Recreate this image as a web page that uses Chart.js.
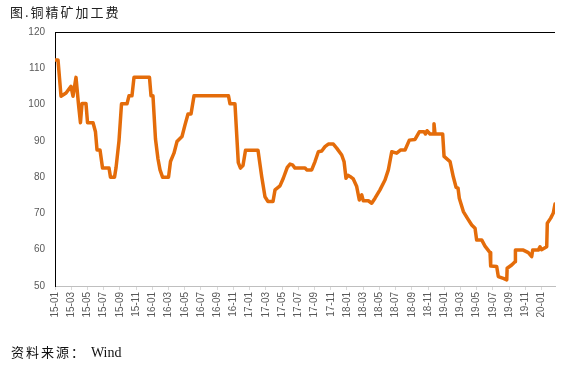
<!DOCTYPE html>
<html>
<head>
<meta charset="utf-8">
<script src="https://cdn.jsdelivr.net/npm/chart.js@4.4.0/dist/chart.umd.min.js"></script>
<style>
    html, body { margin: 0; padding: 0; background: #fff; }
    #wrap { position: relative; width: 578px; height: 365px; }
    #title {
        position: absolute; left: 10px; top: 2px;
        font-family: "Noto Sans CJK SC", sans-serif; font-size: 13px;
        letter-spacing: 2px; color: #222;
    }
    #source {
        position: absolute; left: 11px; top: 342px;
        font-family: "Noto Sans CJK SC", sans-serif; font-size: 13px;
        letter-spacing: 2px; color: #111;
    }
    #source span { font-family: "Liberation Serif", serif; letter-spacing: 0; font-size: 14px; }
</style>
</head>
<body>
<div id="wrap">
    <canvas id="myChart" width="578" height="365"></canvas>
    <div id="title">图.铜精矿加工费</div>
    <div id="source">资料来源： <span>Wind</span></div>
</div>
<script>
// x = months since 2015-01 ; y = 铜精矿加工费 (美元/吨)
const months = [
    0, 0.37, 0.74, 1.36, 1.97, 2.22, 2.59, 2.90, 3.14, 3.33, 3.82, 4.01, 4.69, 4.99, 5.18,
    5.55, 5.86, 6.66, 6.84, 7.34, 7.52, 7.89, 8.20, 8.88, 9.12, 9.49, 9.74, 11.65, 11.84,
    12.08, 12.39, 12.70, 12.95, 13.26, 14.00, 14.24, 14.67, 15.04, 15.66, 16.03, 16.40,
    16.77, 17.14, 21.39, 21.58, 22.19, 22.60, 22.87, 23.18, 23.49, 25.03, 25.49, 25.89,
    26.26, 26.88, 27.13, 27.74, 28.15, 28.64, 28.98, 29.28, 29.59, 30.83, 31.04, 31.65,
    32.06, 32.47, 32.89, 33.29, 33.70, 34.32, 34.73, 35.35, 35.64, 35.88, 36.13, 36.37,
    36.78, 37.20, 37.52, 37.82, 38.01, 38.63, 39.05, 39.46, 40.07, 40.69, 41.10, 41.52,
    42.13, 42.63, 43.16, 43.69, 44.39, 44.92, 45.50, 45.68, 45.87, 46.24, 46.61, 46.73,
    46.86, 47.80, 47.97, 48.71, 49.11, 49.45, 49.69, 49.85, 50.35, 50.84, 51.38, 51.79,
    51.99, 52.61, 53.02, 53.64, 53.72, 54.46, 54.66, 55.28, 55.70, 55.75, 56.31, 56.72,
    56.77, 57.74, 58.36, 58.78, 58.90, 59.59, 59.80, 59.99, 60.63, 60.70, 61.12, 61.44, 61.65
];
const tcFees = [
    112.3, 112.3, 102.3, 103.2, 105, 102.3, 107.5, 100, 95, 100.3, 100.3, 95, 95, 92.5, 87.5,
    87.5, 82.5, 82.5, 80, 80, 82.5, 90, 100.2, 100.2, 102.4, 102.4, 107.5, 107.5, 102.4,
    102.4, 90.5, 85, 82, 80, 80, 84.3, 86.6, 89.8, 91.2, 94.4, 97.4,
    97.4, 102.4, 102.4, 100.2, 100.2, 84, 82.5, 83.2, 87.4, 87.4, 80.1, 74.6,
    73.3, 73.3, 76.5, 77.6, 79.7, 82.7, 83.6, 83.4, 82.5, 82.5, 82.0, 82.0,
    84.3, 87.0, 87.2, 88.4, 89.1, 89.1, 88.0, 86.1, 84.3, 79.7, 80.5, 80.2,
    79.5, 77.4, 73.7, 75.1, 73.5, 73.5, 72.8, 74.2, 76.5, 79.2, 82.0, 87.0,
    86.6, 87.5, 87.5, 90.2, 90.4, 92.5, 92.5, 91.9, 92.8, 91.9, 91.9, 94.7,
    91.9, 91.9, 85.7, 84.3, 80.1, 77.2, 77.0, 74.2, 70.5, 68.7, 66.8, 65.9,
    62.7, 62.7, 61.0, 59.2, 55.5, 55.4, 52.6, 52.1, 51.7, 54.9, 55.8, 56.7,
    59.9, 59.9, 59.2, 58.1, 59.9, 59.9, 60.8, 60.0, 60.8, 67.3, 68.7, 70.1, 72.6
];

const tickMonths = [];
for (let i = 0; i <= 60; i += 2) tickMonths.push(i);
const tickLabels = [
    '15-01', '15-03', '15-05', '15-07', '15-09', '15-11',
    '16-01', '16-03', '16-05', '16-07', '16-09', '16-11',
    '17-01', '17-03', '17-05', '17-07', '17-09', '17-11',
    '18-01', '18-03', '18-05', '18-07', '18-09', '18-11',
    '19-01', '19-03', '19-05', '19-07', '19-09', '19-11',
    '20-01'
];
const yTicks = [50, 60, 70, 80, 90, 100, 110, 120];

const points = months.map((m, i) => ({ x: m, y: tcFees[i] }));

// ligne noire en haut de la zone du graphique
const topBorder = {
    id: 'topBorder',
    afterDraw(chart) {
        const a = chart.chartArea;
        const ctx = chart.ctx;
        ctx.save();
        ctx.strokeStyle = '#000';
        ctx.lineWidth = 1;
        ctx.beginPath();
        ctx.moveTo(a.left, a.top + 0.5);
        ctx.lineTo(a.right, a.top + 0.5);
        ctx.stroke();
        ctx.restore();
    }
};

const ctx = document.getElementById('myChart').getContext('2d');
const myChart = new Chart(ctx, {
    type: 'line',
    data: {
        datasets: [{
            label: '铜精矿加工费',
            data: points,
            borderColor: '#E46C0A',
            borderWidth: 3.5,
            borderJoinStyle: 'round',
            borderCapStyle: 'round',
            pointRadius: 0,
            tension: 0,
            fill: false
        }]
    },
    options: {
        responsive: false,
        animation: false,
        layout: { padding: { top: 32, right: 23, left: 0, bottom: 0 } },
        plugins: {
            legend: { display: false },
            tooltip: { enabled: false }
        },
        scales: {
            x: {
                type: 'linear',
                min: 0,
                max: 61.65,
                afterFit: s => { s.height = 79; },
                afterBuildTicks: s => { s.ticks = tickMonths.map(v => ({ value: v })); },
                grid: { drawOnChartArea: false, tickLength: 4, color: '#d9d9d9' },
                border: { color: '#bfbfbf', width: 1 },
                ticks: {
                    autoSkip: false,
                    minRotation: 90,
                    maxRotation: 90,
                    padding: 2,
                    color: '#595959',
                    font: { family: 'Liberation Sans', size: 10 },
                    callback: v => tickLabels[tickMonths.indexOf(v)]
                }
            },
            y: {
                min: 50,
                max: 120,
                afterFit: s => { s.width = 55; },
                afterBuildTicks: s => { s.ticks = yTicks.map(v => ({ value: v })); },
                grid: { display: false, drawTicks: false },
                border: { color: '#000', width: 1 },
                ticks: {
                    padding: 10,
                    color: '#595959',
                    font: { family: 'Liberation Sans', size: 10 }
                }
            }
        }
    },
    plugins: [topBorder]
});
</script>
</body>
</html>
